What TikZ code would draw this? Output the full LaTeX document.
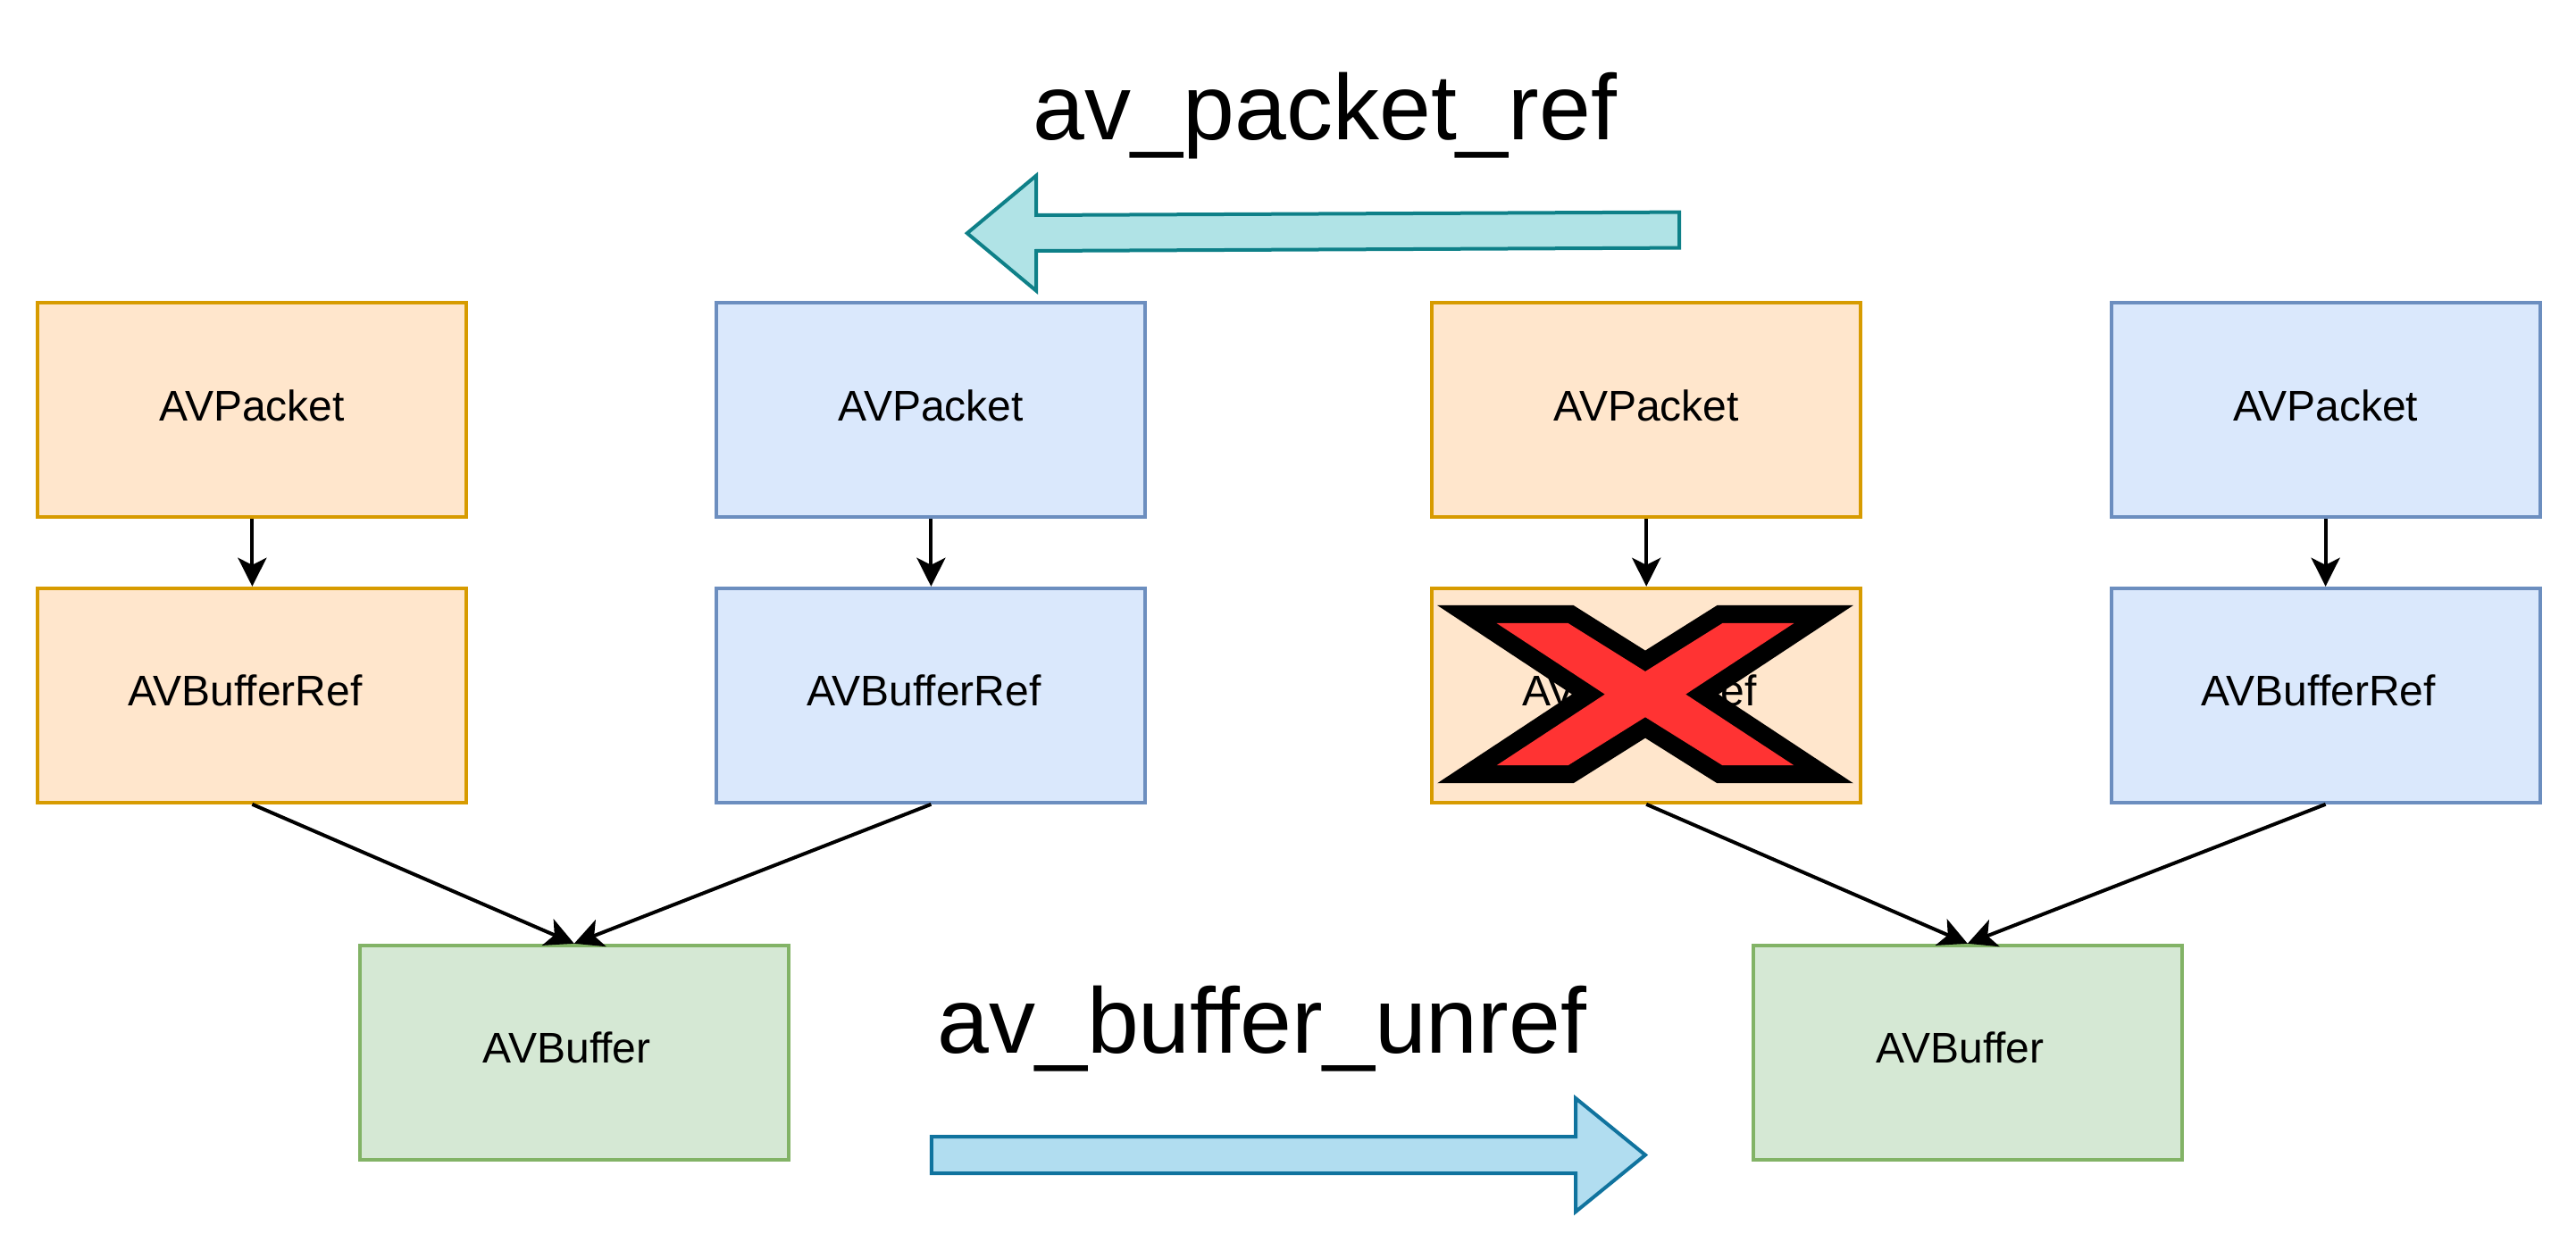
\documentclass[tikz,border=0pt]{standalone}
\usepackage{fontspec}
\setmainfont{Liberation Sans}
\usetikzlibrary{arrows.meta}
\definecolor{ofill}{HTML}{FFE6CC}
\definecolor{ostroke}{HTML}{D79B00}
\definecolor{bfill}{HTML}{DAE8FC}
\definecolor{bstroke}{HTML}{6C8EBF}
\definecolor{gfill}{HTML}{D5E8D4}
\definecolor{gstroke}{HTML}{82B366}
\definecolor{tafill}{HTML}{B0E3E6}
\definecolor{tastroke}{HTML}{0E8088}
\definecolor{bafill}{HTML}{B1DDF0}
\definecolor{bastroke}{HTML}{10739E}
\definecolor{xred}{HTML}{FF3333}
\newcommand{\padr}{\hspace*{4pt}}
\tikzset{
  box/.style={draw, line width=1pt, minimum width=120pt, minimum height=60pt,
    inner sep=0pt, anchor=north west, font=\fontsize{12}{14}\selectfont,
    text height=9pt, text depth=3pt},
  obox/.style={box, fill=ofill, draw=ostroke},
  bbox/.style={box, fill=bfill, draw=bstroke},
  gbox/.style={box, fill=gfill, draw=gstroke},
  conn/.style={line width=1pt, -{Stealth[length=8pt,width=8pt,inset=2pt]}},
  title/.style={anchor=base, inner sep=0pt, font=\fontsize{26}{31}\selectfont},
  bigarrow/.style={line width=1pt, line join=miter}
}
\begin{document}
\begin{tikzpicture}[x=1pt,y=-1pt]
\useasboundingbox (0,0) rectangle (721,350);
% column 1
\node[obox] (p1) at (10.1,84.3) {AVPacket};
\node[obox] (r1) at (10.1,164.2) {AVBufferRef\padr};
% column 2
\node[bbox] (p2) at (200.1,84.3) {AVPacket};
\node[bbox] (r2) at (200.1,164.2) {AVBufferRef\padr};
% column 3
\node[obox] (p3) at (400.3,84.3) {AVPacket};
\node[obox] (r3) at (400.3,164.2) {AVBufferRef\padr};
% column 4
\node[bbox] (p4) at (590.4,84.3) {AVPacket};
\node[bbox] (r4) at (590.4,164.2) {AVBufferRef\padr};
% buffers
\node[gbox] (b1) at (100.2,264.2) {AVBuffer\padr};
\node[gbox] (b2) at (490.2,264.2) {AVBuffer\padr};
% connectors
\draw[conn] (p1.south) -- (r1.north);
\draw[conn] (p2.south) -- (r2.north);
\draw[conn] (p3.south) -- (r3.north);
\draw[conn] (p4.south) -- (r4.north);
\draw[conn] (r1.south) -- (b1.north);
\draw[conn] (r2.south) -- (b1.north);
\draw[conn] (r3.south) -- (b2.north);
\draw[conn] (r4.south) -- (b2.north);
% red X over the third AVBufferRef
\begin{scope}[shift={(460.5,194.4)}]
  \fill[black] (-58.2,-24.9) -- (-20.1,-24.9) -- (0,-12.25) -- (20.1,-24.9) -- (58.2,-24.9)
    -- (20.5,0) -- (58.2,24.9) -- (20.1,24.9) -- (0,12.25) -- (-20.1,24.9) -- (-58.2,24.9)
    -- (-20.5,0) -- cycle;
  \fill[xred] (-41.6,-19.9) -- (-21.6,-19.9) -- (0,-6.4) -- (21.6,-19.9) -- (41.6,-19.9)
    -- (11.3,0) -- (41.6,19.9) -- (21.6,19.9) -- (0,6.4) -- (-21.6,19.9) -- (-41.6,19.9)
    -- (-11.3,0) -- cycle;
\end{scope}
% titles
\node[title] (t1) at (370.9,39.1) {av\_packet\_ref};
\node[title] (t2) at (353.2,294.8) {av\_buffer\_unref};
% block arrows
\draw[bigarrow, fill=tafill, draw=tastroke]
  (470,59.4) -- (290,60.25) -- (290,49.2) -- (270.7,65.3) -- (290,81.4)
  -- (290,70.25) -- (470,69.4) -- cycle;
\draw[bigarrow, fill=bafill, draw=bastroke]
  (260.7,318.3) -- (441,318.3) -- (441,307.5) -- (460.5,323.4) -- (441,339.3)
  -- (441,328.5) -- (260.7,328.5) -- cycle;
\end{tikzpicture}
\end{document}
